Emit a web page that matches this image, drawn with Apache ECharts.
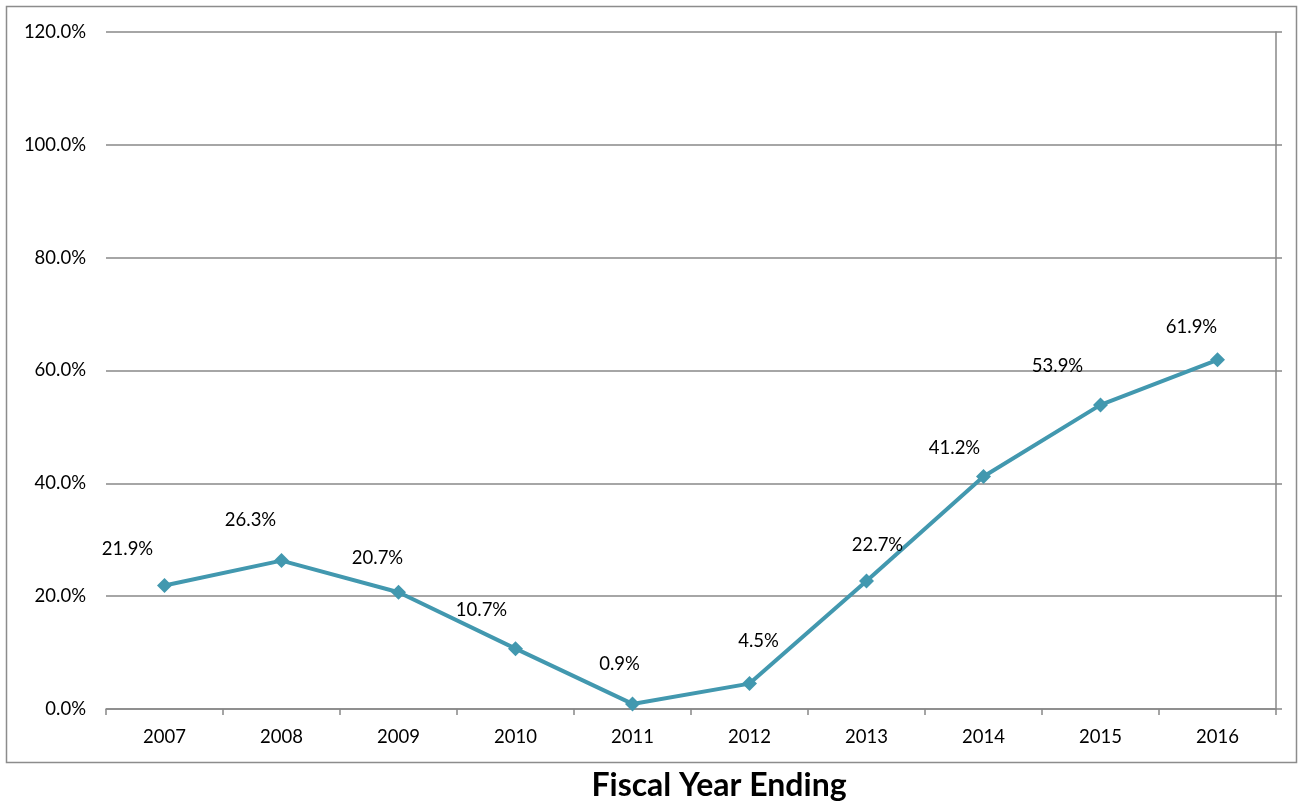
<!DOCTYPE html>
<html>
<head>
<meta charset="utf-8">
<script src="https://cdn.jsdelivr.net/npm/echarts@6/dist/echarts.min.js"></script>
<style>
  html, body { margin: 0; padding: 0; background: #fff; }
  #chart { width: 1299px; height: 806px; }
</style>
</head>
<body>
<div id="chart"></div>
<script>
// Fiscal years on the category axis
const years = ['2007', '2008', '2009', '2010', '2011', '2012', '2013', '2014', '2015', '2016'];
// Percentage value per fiscal year
const values = [21.9, 26.3, 20.7, 10.7, 0.9, 4.5, 22.7, 41.2, 53.9, 61.9];
// Value axis range
const yMin = 0;
const yMax = 120;
const yStep = 20;

const FONT = 'Lato, "Open Sans", sans-serif';
const LINE_COLOR = '#4298AF';
const GRID_COLOR = '#888888';
const TEXT_SIZE = 18.5;

// Per-label nudges so the value labels sit clear of the line
const labelNudge = [
  [-37, -36], [-31, -41], [-21, -34], [-34, -39], [-13, -40],
  [9, -43], [11, -36], [-29, -29], [-43, -39], [-26, -33]
];

const chart = echarts.init(document.getElementById('chart'), null, { renderer: 'canvas' });

chart.setOption({
  animation: false,
  backgroundColor: '#ffffff',
  grid: { left: 106, right: 23, top: 32, bottom: 97, containLabel: false },
  graphic: [
    {
      type: 'rect',
      shape: { x: 6.5, y: 6.5, width: 1290, height: 756 },
      style: { fill: 'none', stroke: '#8c8c8c', lineWidth: 1.5 },
      silent: true
    },
    {
      type: 'text',
      x: 719, y: 786,
      style: {
        text: 'Fiscal Year Ending',
        fontFamily: FONT, fontWeight: 'bold', fontSize: 32,
        fill: '#000', align: 'center', verticalAlign: 'middle'
      }
    }
  ],
  xAxis: {
    type: 'category',
    data: years,
    boundaryGap: true,
    axisLine: { show: true, lineStyle: { color: GRID_COLOR, width: 1.5 } },
    axisTick: { show: true, alignWithLabel: false, length: 6, inside: false, lineStyle: { color: GRID_COLOR, width: 1.5 } },
    axisLabel: { color: '#000', fontFamily: FONT, fontSize: TEXT_SIZE, margin: 19 },
    splitLine: { show: false }
  },
  yAxis: [
    {
      type: 'value',
      min: yMin, max: yMax, interval: yStep,
      axisLine: { show: false },
      axisTick: { show: false },
      axisLabel: {
        color: '#000', fontFamily: FONT, fontSize: TEXT_SIZE, margin: 20,
        formatter: v => v.toFixed(1) + '%'
      },
      splitLine: { show: true, lineStyle: { color: GRID_COLOR, width: 1.5 } }
    },
    {
      type: 'value',
      position: 'right',
      min: yMin, max: yMax, interval: yStep,
      axisLine: { show: true, lineStyle: { color: GRID_COLOR, width: 1.5 } },
      axisTick: { show: true, length: 6, inside: false, lineStyle: { color: GRID_COLOR, width: 1.5 } },
      axisLabel: { show: false },
      splitLine: { show: false }
    }
  ],
  series: [
    {
      type: 'line',
      yAxisIndex: 0,
      data: values.map((v, i) => ({
        value: v,
        label: { offset: labelNudge[i] }
      })),
      symbol: 'diamond',
      symbolSize: 15,
      showAllSymbol: true,
      lineStyle: { color: LINE_COLOR, width: 4 },
      itemStyle: { color: LINE_COLOR },
      label: {
        show: true,
        position: 'inside',
        color: '#000',
        fontFamily: FONT,
        fontSize: TEXT_SIZE,
        formatter: p => p.value.toFixed(1) + '%'
      }
    }
  ]
});
</script>
</body>
</html>
